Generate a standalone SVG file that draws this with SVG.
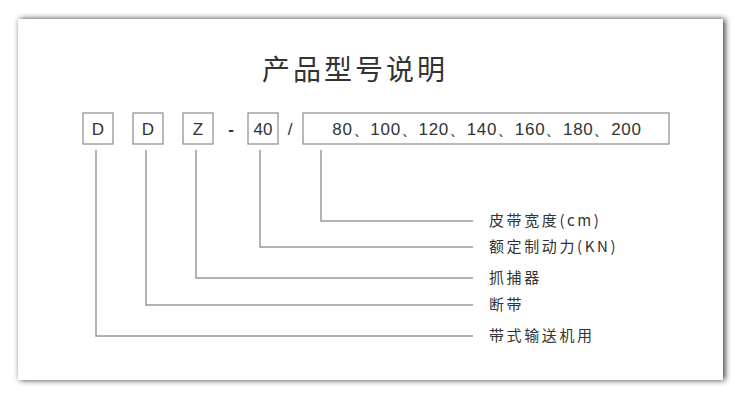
<svg xmlns="http://www.w3.org/2000/svg" width="750" height="400" viewBox="0 0 750 400">
<defs>
<filter id="sh" x="-5%" y="-10%" width="110%" height="120%">
<feGaussianBlur in="SourceAlpha" stdDeviation="3"/>
<feOffset dx="2" dy="0"/>
<feComponentTransfer><feFuncA type="linear" slope="0.8"/></feComponentTransfer>
<feMerge><feMergeNode/><feMergeNode in="SourceGraphic"/></feMerge>
</filter>
</defs>
<style>
.box{fill:#fff;stroke:#8a8a8a;stroke-width:1.2}
.bt{font-family:"Liberation Sans",Arial,sans-serif;font-size:17px;fill:#333;text-anchor:middle}
.lab{font-family:"Noto Sans CJK SC","Liberation Sans",sans-serif;font-size:15px;fill:#333;letter-spacing:2.6px}
.ln{fill:none;stroke:#9a9a9a;stroke-width:1.5}
</style>
<rect width="750" height="400" fill="#fff"/>
<rect x="18" y="19" width="705" height="361" fill="#fff" filter="url(#sh)"/>
<text x="355" y="80" font-family="'Noto Sans CJK SC',sans-serif" font-size="28" fill="#333" text-anchor="middle" letter-spacing="3">产品型号说明</text>
<g id="n-d1"><rect class="box" x="83" y="113" width="30" height="31"/><text class="bt" x="98" y="135">D</text></g>
<g id="n-d2"><rect class="box" x="133" y="113" width="30" height="31"/><text class="bt" x="148" y="135">D</text></g>
<g id="n-z"><rect class="box" x="183" y="113" width="30" height="31"/><text class="bt" x="198" y="135">Z</text></g>
<g id="n-dash"><text class="bt" x="231" y="135" font-weight="bold">-</text></g>
<g id="n-40"><rect class="box" x="248" y="113" width="30" height="31"/><text class="bt" x="263" y="135">40</text></g>
<g id="n-slash"><text class="bt" x="290" y="135">/</text></g>
<g id="n-width"><rect class="box" x="303" y="113" width="366" height="31"/><text class="bt" x="487" y="135" letter-spacing="0.7" font-family="'Liberation Sans','Noto Sans CJK SC',sans-serif">80、100、120、140、160、180、200</text></g>
<g id="connectors">
<path class="ln" d="M321 150V221H473"/>
<path class="ln" d="M260 150V247H473"/>
<path class="ln" d="M196 150V278H473"/>
<path class="ln" d="M146 150V305H473"/>
<path class="ln" d="M96 150V336H473"/>
</g>
<g id="labels">
<text class="lab" x="489" y="226">皮带宽度(cm)</text>
<text class="lab" x="489" y="252">额定制动力(KN)</text>
<text class="lab" x="489" y="283">抓捕器</text>
<text class="lab" x="489" y="310">断带</text>
<text class="lab" x="489" y="341">带式输送机用</text>
</g>
</svg>
